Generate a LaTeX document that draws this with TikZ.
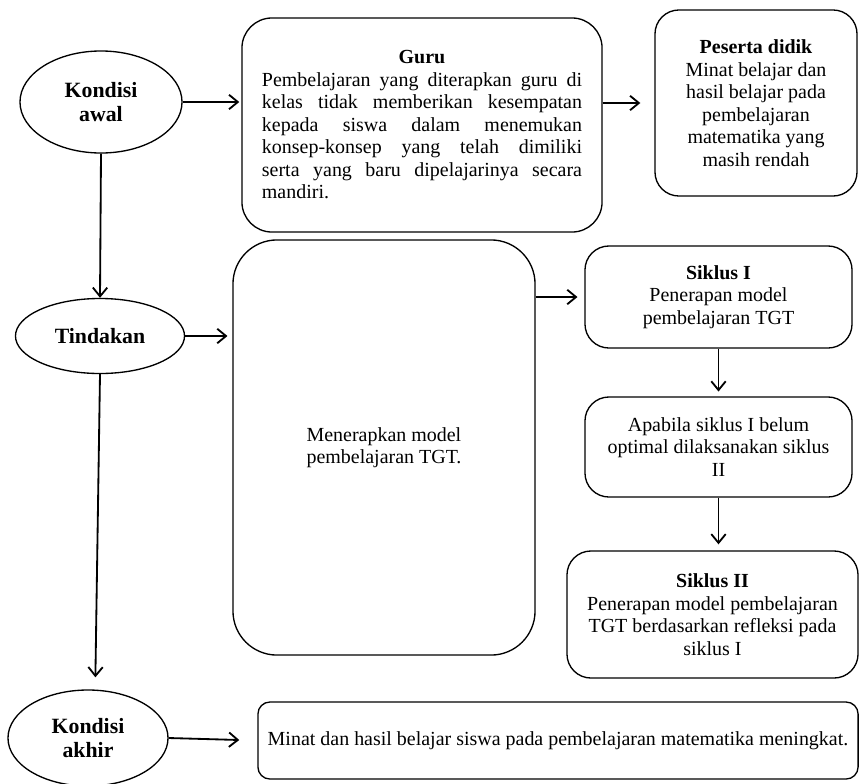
\documentclass[tikz,border=0pt]{standalone}
\usepackage{fontspec}
\setmainfont{Liberation Serif}
\usetikzlibrary{shapes.geometric, arrows.meta, positioning}
\setlength{\parindent}{0pt}
\tikzset{
    kondisi/.style={ellipse, draw, line width=0.95pt, inner sep=0pt, align=center, font=\fontsize{15.5}{17.5}\selectfont\bfseries},
    box/.style={rectangle, rounded corners=0.6cm, draw, line width=0.95pt, text centered, align=center, font=\fontsize{14.2}{16}\selectfont},
    arrow/.style={->, line width=1.3pt, >={Straight Barb[length=2.2mm, width=3.6mm]}}
}

\begin{document}
\begin{tikzpicture}[x=0.025cm, y=-0.025cm]
    \useasboundingbox (0,0) rectangle (859,783);
    % Kondisi awal
    \node[kondisi, minimum width=4.05cm, minimum height=2.55cm] (awal) at (101,102) {Kondisi\\awal};
    \node[box, rounded corners=0.75cm, minimum width=9cm, minimum height=5.35cm, text width=8cm, align=justify] (guru) at (422,125)
        {{\centering\textbf{Guru}\par}Pembelajaran yang diterapkan guru di\linebreak kelas tidak memberikan kesempatan\linebreak kepada siswa dalam menemukan\linebreak konsep-konsep yang telah dimiliki\linebreak serta yang baru dipelajarinya secara\linebreak mandiri.};
    \node[box, minimum width=5.05cm, minimum height=4.65cm] (peserta) at (756,103)
        {\textbf{Peserta didik}\\Minat belajar dan\\hasil belajar pada\\pembelajaran\\matematika yang\\masih rendah};

    % Tindakan
    \node[kondisi, minimum width=4.225cm, minimum height=1.875cm] (tindakan) at (100,336) {Tindakan};
    \node[box, rounded corners=1.1cm, minimum width=7.55cm, minimum height=10.375cm, align=left] (terapkan) at (384,447.5)
        {Menerapkan model\\pembelajaran TGT.};
    \node[box, minimum width=6.675cm, minimum height=2.55cm] (siklus1) at (718.5,297)
        {\textbf{Siklus I}\\Penerapan model\\pembelajaran TGT};
    \node[box, minimum width=6.675cm, minimum height=2.5cm] (apabila) at (718.5,447)
        {Apabila siklus I belum\\optimal dilaksanakan siklus\\II};
    \node[box, minimum width=7.275cm, minimum height=3.175cm] (siklus2) at (712.5,614.5)
        {\textbf{Siklus II}\\Penerapan model pembelajaran\\TGT berdasarkan refleksi pada\\siklus I};

    % Kondisi akhir
    \node[kondisi, minimum width=4cm, minimum height=2.4cm] (akhir) at (88,738) {Kondisi\\akhir};
    \node[box, rounded corners=0.3cm, minimum width=15cm, minimum height=1.925cm] (hasil) at (558,740.5)
        {Minat dan hasil belajar siswa pada pembelajaran matematika meningkat.};

    % Connections
    \draw[arrow, shorten >=0.05cm] (awal.east) -- (awal.east -| guru.west);
    \draw[arrow, shorten >=0.35cm] (guru.east |- peserta.west) -- (peserta.west);
    \draw[arrow] (awal.south) -- (tindakan.north);
    \draw[arrow, shorten >=0.12cm] (tindakan.east) -- (tindakan.east -| terapkan.west);
    \draw[arrow, shorten >=0.17cm] (terapkan.east |- siklus1.west) -- (siklus1.west);
    \draw[arrow, shorten >=0.12cm] (siklus1.south) -- (apabila.north);
    \draw[arrow, shorten >=0.15cm] (apabila.south) -- (siklus2.north -| apabila.south);
    \draw[arrow, shorten >=0.3cm] (tindakan.south) -- ([xshift=0.18cm]akhir.north);
    \draw[arrow, shorten >=0.45cm] (akhir.east) -- (hasil.west);
\end{tikzpicture}
\end{document}
